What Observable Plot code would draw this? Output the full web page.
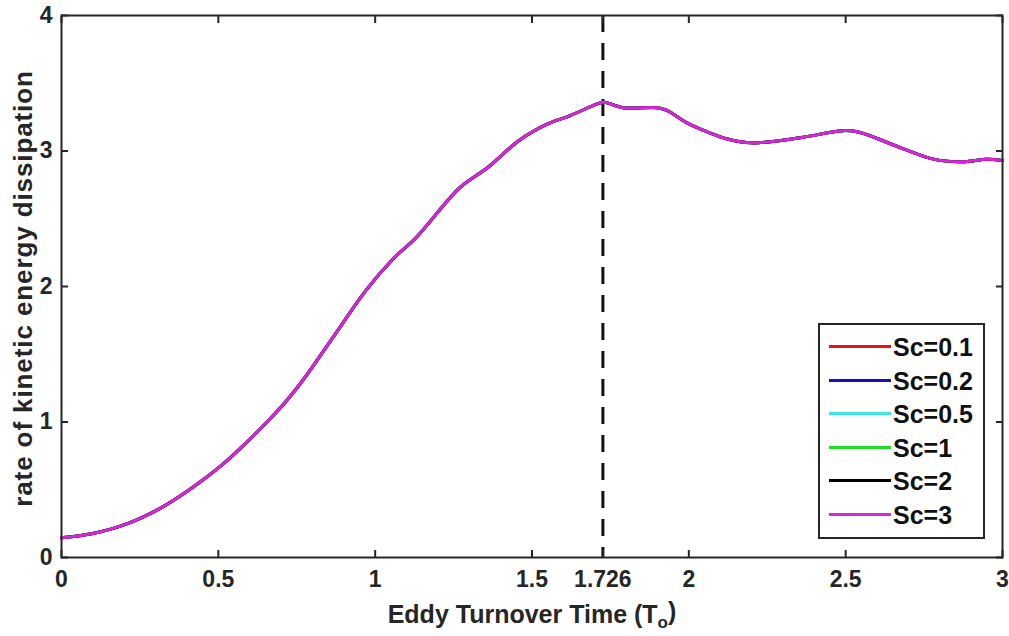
<!DOCTYPE html>
<html>
<head>
<meta charset="utf-8">
<script src="https://cdn.jsdelivr.net/npm/d3@7"></script>
<script src="https://cdn.jsdelivr.net/npm/@observablehq/plot@0.6"></script>
<style>
  html, body { margin: 0; padding: 0; background: #fff; }
  #wrap { position: relative; width: 1009px; height: 636px; font-family: "Liberation Sans", Arial, sans-serif; }
  #legend { position: absolute; left: 818px; top: 323px; width: 167px; height: 216px; box-sizing: border-box;
            border: 2px solid #262626; background: #fff; }
  .row { position: absolute; left: 0; height: 30px; }
  .swatch { position: absolute; left: 9px; width: 62px; height: 3px; }
  .lab { position: absolute; left: 73px; font-weight: bold; font-size: 25px; color: #111; white-space: nowrap; line-height: 30px; }
</style>
</head>
<body>
<div id="wrap"></div>
<script>
// ---- data ----
const seriesNames = ["Sc=0.1", "Sc=0.2", "Sc=0.5", "Sc=1", "Sc=2", "Sc=3"];
const seriesColors = ["#e8121c", "#1212c0", "#3ce6e6", "#22dd22", "#000000", "#dd22dd"];
// all six curves coincide in the figure
const time = [0, 0.10, 0.21, 0.32, 0.42, 0.51, 0.59, 0.70, 0.77, 0.87, 0.97, 1.06, 1.13, 1.27, 1.36, 1.46, 1.55, 1.62, 1.71, 1.73, 1.79, 1.90, 1.93, 2.00, 2.06, 2.12, 2.20, 2.36, 2.49, 2.54, 2.68, 2.78, 2.87, 2.95, 3.0];
const dissipation = [0.145, 0.177, 0.25, 0.37, 0.52, 0.68, 0.85, 1.11, 1.31, 1.64, 1.97, 2.21, 2.36, 2.73, 2.88, 3.08, 3.20, 3.26, 3.35, 3.36, 3.32, 3.32, 3.30, 3.20, 3.14, 3.09, 3.06, 3.10, 3.15, 3.14, 3.02, 2.94, 2.92, 2.94, 2.93];
const markerTime = [1.726];
const xTicks = [0, 0.5, 1, 1.5, 1.726, 2, 2.5, 3];
const yTicks = [0, 1, 2, 3, 4];
const xLabel = "Eddy Turnover Time (To)";
const yLabel = "rate of kinetic energy dissipation";

const rows = seriesNames.flatMap(s => time.map((t, i) => ({series: s, t, v: dissipation[i]})));

const font = "Liberation Sans, Arial, sans-serif";
const chart = Plot.plot({
  width: 1009, height: 636,
  marginLeft: 61, marginRight: 7, marginTop: 15, marginBottom: 79,
  x: {domain: [0, 3]},
  y: {domain: [0, 4]},
  color: {domain: seriesNames, range: seriesColors},
  style: {fontFamily: font, fontWeight: "bold", color: "#262626", background: "white", overflow: "visible"},
  marks: [
    Plot.ruleX(markerTime, {stroke: "#111", strokeWidth: 3, strokeDasharray: "17,11"}),
    Plot.line(rows, {x: "t", y: "v", z: "series", stroke: "series", strokeWidth: 3, curve: "catmull-rom"}),
    Plot.frame({stroke: "#262626", strokeWidth: 2}),
    Plot.axisX({ticks: xTicks, tickSize: -7, tickFormat: () => "", label: null, strokeWidth: 2}),
    Plot.axisX({ticks: xTicks, anchor: "top", tickSize: -7, tickFormat: () => "", label: null, strokeWidth: 2}),
    Plot.axisX({ticks: xTicks, tickSize: 0, tickPadding: 13, fontSize: 23, label: null, tickFormat: d => String(d)}),
    Plot.axisY({ticks: yTicks, tickSize: -7, tickFormat: () => "", label: null, strokeWidth: 2}),
    Plot.axisY({ticks: yTicks, anchor: "right", tickSize: -7, tickFormat: () => "", label: null, strokeWidth: 2}),
    Plot.axisY({ticks: yTicks, tickSize: 0, tickPadding: 9, fontSize: 23, label: null, tickFormat: d => String(d)}),
    Plot.text([xLabel], {frameAnchor: "bottom", dy: 65, fontSize: 25, fontWeight: "bold", fill: "#262626", className: "xlab"}),
    Plot.text([yLabel], {frameAnchor: "left", textAnchor: "middle", dx: -38, dy: 2, rotate: -90, fontSize: 26, fontWeight: "bold", fill: "#262626", className: "ylab"})
  ]
});

// subscript in x label
d3.select(chart).selectAll(".xlab text").each(function() {
  const t = d3.select(this);
  t.text(null);
  t.append("tspan").text("Eddy Turnover Time (T");
  t.append("tspan").attr("dy", "0.3em").attr("font-size", "17").text("o");
  t.append("tspan").attr("dy", "-0.3em").text(")");
});
d3.select(chart).selectAll(".ylab text").style("letter-spacing", "0.9px");

const wrap = document.getElementById("wrap");
wrap.appendChild(chart);

// legend
const legend = document.createElement("div");
legend.id = "legend";
const rowTop = [7, 40.5, 74, 107.5, 141, 174.5];
seriesNames.forEach((s, i) => {
  const r = document.createElement("div");
  r.className = "row";
  r.style.top = rowTop[i] + "px";
  r.style.width = "100%";
  const sw = document.createElement("div");
  sw.className = "swatch";
  sw.style.background = seriesColors[i];
  sw.style.top = "13px";
  const lb = document.createElement("div");
  lb.className = "lab";
  lb.style.top = "0px";
  lb.textContent = s;
  r.appendChild(sw);
  r.appendChild(lb);
  legend.appendChild(r);
});
wrap.appendChild(legend);
</script>
</body>
</html>
